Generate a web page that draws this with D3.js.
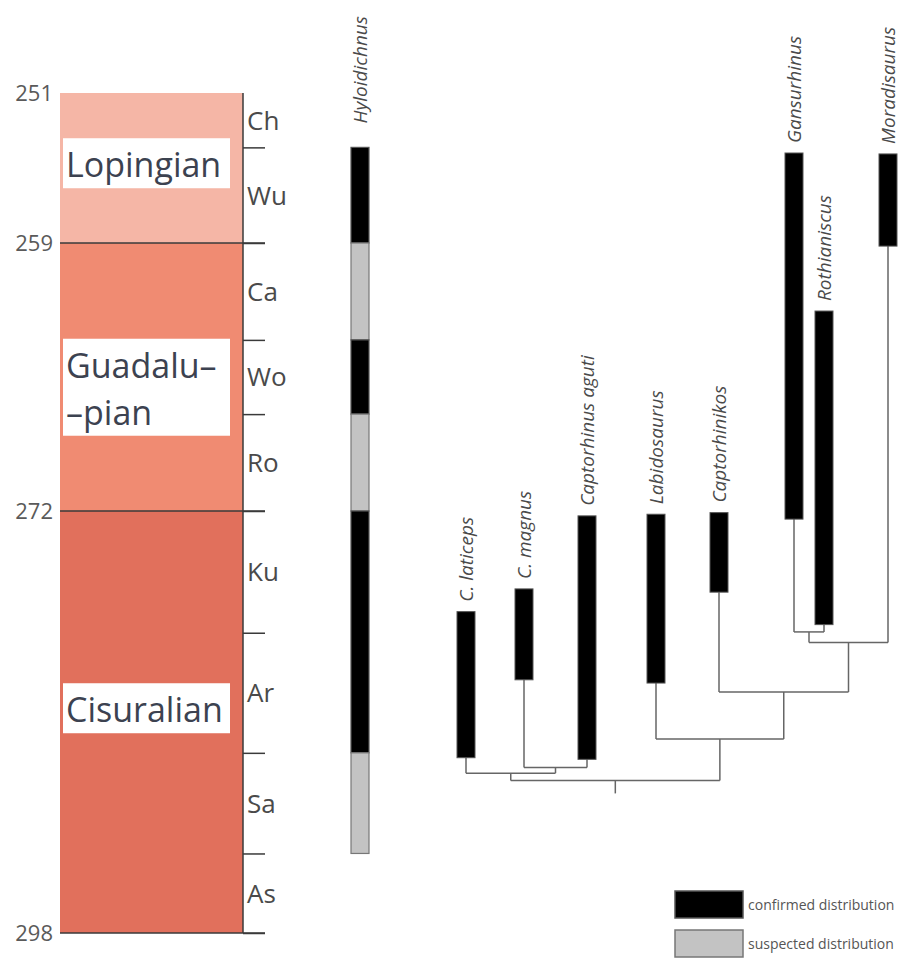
<!DOCTYPE html>
<html>
<head>
<meta charset="utf-8">
<script src="https://cdn.jsdelivr.net/npm/d3@7"></script>
<style>
body { margin: 0; background: #fff; }
text { font-family: "Open Sans", "Noto Sans", sans-serif; }
</style>
</head>
<body>
<div id="chart"></div>
<script>
// time scale (Ma)
let epochBounds = [251, 259, 272, 298];
let epochLabels = [["Lopingian"], ["Guadalu\u2013", "\u2013pian"], ["Cisuralian"]];
let epochColors = ["#f5b6a6", "#f08b72", "#e1705c"];
let stageNames = ["Ch", "Wu", "Ca", "Wo", "Ro", "Ku", "Ar", "Sa", "As"];
let stageBounds = [251, 253.9, 259, 263.7, 267.3, 272, 279.5, 286.9, 293.1, 298];
let ageTicks = [251, 259, 272, 298];

// Hyloidichnus ranges, by segment
let hyloFrom = [253.9, 259, 263.7, 267.3, 272, 286.9];
let hyloTo = [259, 263.7, 267.3, 272, 286.9, 293.1];
let hyloStatus = ["confirmed", "suspected", "confirmed", "suspected", "confirmed", "suspected"];

// captorhinid ranges (all confirmed)
let taxa = ["C. laticeps", "C. magnus", "Captorhinus aguti", "Labidosaurus", "Captorhinikos",
            "Gansurhinus", "Rothianiscus", "Moradisaurus"];
let rangeFrom = [278.2, 276.8, 272.3, 272.2, 272.1, 254.2, 262.3, 254.25];
let rangeTo = [287.2, 282.4, 287.3, 282.6, 277.0, 272.5, 279.0, 259.15];

// tree, node ages in Ma
let phylogeny = {age: 288.6, children: [
    {age: 288.15, children: [
        {name: "C. laticeps"},
        {age: 287.8, children: [{name: "C. magnus"}, {name: "Captorhinus aguti"}]}
    ]},
    {age: 286.05, children: [
        {name: "Labidosaurus"},
        {age: 283.15, children: [
            {name: "Captorhinikos"},
            {age: 280.1, children: [
                {age: 279.45, children: [{name: "Gansurhinus"}, {name: "Rothianiscus"}]},
                {name: "Moradisaurus"}
            ]}
        ]}
    ]}
]};
let rootStemAge = 289.4;

let legendNames = ["confirmed distribution", "suspected distribution"];

// layout
let width = 919, height = 958;
let hyloX = 360;
let taxonX = [466, 524, 587, 656, 719, 794, 824, 888];
let barW = 18;
let colLeft = 60, colRight = 243, tickLen = 22;
let fillFor = {confirmed: "#000", suspected: "#c3c3c3"};
let strokeFor = {confirmed: "#555", suspected: "#777"};

let svg = d3.select("#chart").append("svg")
    .attr("width", width)
    .attr("height", height);

let y = d3.scaleLinear()
    .domain(epochBounds)
    .range([93, 243, 511, 933]);

// epoch blocks
svg.selectAll(".epoch")
    .data(epochLabels)
    .join("rect")
    .attr("class", "epoch")
    .attr("x", colLeft)
    .attr("y", (d, i) => y(epochBounds[i]))
    .attr("width", colRight - colLeft)
    .attr("height", (d, i) => y(epochBounds[i + 1]) - y(epochBounds[i]))
    .attr("fill", (d, i) => epochColors[i]);

// boundaries between epochs
svg.selectAll(".eline")
    .data(epochBounds.slice(1))
    .join("line")
    .attr("class", "eline")
    .attr("x1", colLeft)
    .attr("x2", colRight + tickLen)
    .attr("y1", d => y(d))
    .attr("y2", d => y(d))
    .attr("stroke", "#3a3a3a")
    .attr("stroke-width", 1.5);

// stage axis
let stageAxis = d3.axisRight(y)
    .tickValues(stageBounds.slice(1))
    .tickSize(tickLen)
    .tickFormat("");
let sa = svg.append("g")
    .attr("transform", `translate(${colRight},0)`)
    .call(stageAxis);
sa.select(".domain").attr("stroke", "#3a3a3a").attr("stroke-width", 1.5)
    .attr("d", `M0,${y(251)}V${y(298)}`);
sa.selectAll(".tick line").attr("stroke", "#3a3a3a").attr("stroke-width", 1.5);

svg.selectAll(".stage")
    .data(stageNames)
    .join("text")
    .attr("class", "stage")
    .attr("x", colRight + 4)
    .attr("y", (d, i) => (y(stageBounds[i]) + y(stageBounds[i + 1])) / 2)
    .attr("dy", "0.36em")
    .attr("font-size", 26)
    .attr("fill", "#4a4a4a")
    .text(d => d);

// age labels
let ageAxis = d3.axisLeft(y)
    .tickValues(ageTicks)
    .tickSize(0)
    .tickPadding(7)
    .tickFormat(d3.format("d"));
let aa = svg.append("g")
    .attr("transform", `translate(${colLeft},0)`)
    .call(ageAxis);
aa.select(".domain").remove();
aa.selectAll("text")
    .attr("font-size", 22)
    .attr("fill", "#5a5a5a")
    .style("font-family", "'Open Sans', sans-serif");

// epoch names on white boxes
let labelShift = [-3, 12, -12];
epochLabels.forEach((lines, i) => {
    let cy = (y(epochBounds[i]) + y(epochBounds[i + 1])) / 2 + labelShift[i];
    let g = svg.append("g");
    let box = g.append("rect").attr("fill", "#fff");
    let lh = 47;
    let t = g.append("text")
        .attr("font-size", 34)
        .attr("fill", "#3c4250");
    lines.forEach((ln, j) => {
        t.append("tspan")
            .attr("x", 66)
            .attr("y", cy + (j - (lines.length - 1) / 2) * lh)
            .attr("dy", "0.36em")
            .text(ln);
    });
    let bb = t.node().getBBox();
    box.attr("x", 63)
        .attr("width", 167)
        .attr("y", bb.y - 3)
        .attr("height", bb.height + 4);
});

// Hyloidichnus column
svg.selectAll(".hylo")
    .data(hyloStatus)
    .join("rect")
    .attr("class", "hylo")
    .attr("x", hyloX - barW / 2)
    .attr("width", barW)
    .attr("y", (d, i) => y(hyloFrom[i]))
    .attr("height", (d, i) => y(hyloTo[i]) - y(hyloFrom[i]))
    .attr("fill", d => fillFor[d])
    .attr("stroke", d => strokeFor[d])
    .attr("stroke-width", 1.2);

function taxonLabel(name, x, top, gap) {
    svg.append("text")
        .attr("transform", `translate(${x + 7},${top - gap}) rotate(-90)`)
        .attr("font-size", 19)
        .attr("font-style", "italic")
        .attr("fill", "#4a4a4a")
        .text(name);
}
taxonLabel("Hyloidichnus", hyloX, y(hyloFrom[0]), 24);

// tree
let root = d3.hierarchy(phylogeny);
root.eachAfter(n => {
    if (!n.children) {
        let i = taxa.indexOf(n.data.name);
        n.x = taxonX[i];
        n.y = y(rangeTo[i]);
    } else {
        n.x = (n.children[0].x + n.children[n.children.length - 1].x) / 2;
        n.y = y(n.data.age);
    }
});

let branches = [];
root.descendants().filter(n => n.children).forEach(n => {
    branches.push([[n.children[0].x, n.y], [n.children[n.children.length - 1].x, n.y]]);
    n.children.forEach(c => branches.push([[c.x, c.y], [c.x, n.y]]));
});
branches.push([[root.x, root.y], [root.x, y(rootStemAge)]]);

svg.selectAll(".branch")
    .data(branches)
    .join("path")
    .attr("class", "branch")
    .attr("d", d3.line())
    .attr("fill", "none")
    .attr("stroke", "#666")
    .attr("stroke-width", 1.5);

// range bars
svg.selectAll(".range")
    .data(taxa)
    .join("rect")
    .attr("class", "range")
    .attr("x", (d, i) => taxonX[i] - barW / 2)
    .attr("width", barW)
    .attr("y", (d, i) => y(rangeFrom[i]))
    .attr("height", (d, i) => y(rangeTo[i]) - y(rangeFrom[i]))
    .attr("fill", fillFor.confirmed)
    .attr("stroke", strokeFor.confirmed)
    .attr("stroke-width", 1);

taxa.forEach((t, i) => taxonLabel(t, taxonX[i], y(rangeFrom[i]), 10));

// legend
let legend = svg.selectAll(".legend")
    .data(legendNames)
    .join("g")
    .attr("class", "legend")
    .attr("transform", (d, i) => `translate(675,${891 + i * 39})`);
legend.append("rect")
    .attr("width", 68)
    .attr("height", 27)
    .attr("fill", (d, i) => i === 0 ? fillFor.confirmed : fillFor.suspected)
    .attr("stroke", (d, i) => i === 0 ? strokeFor.confirmed : strokeFor.suspected)
    .attr("stroke-width", 1.5);
legend.append("text")
    .attr("x", 73)
    .attr("y", 14)
    .attr("dy", "0.35em")
    .attr("font-size", 14)
    .attr("fill", "#555")
    .text(d => d);
</script>
</body>
</html>
